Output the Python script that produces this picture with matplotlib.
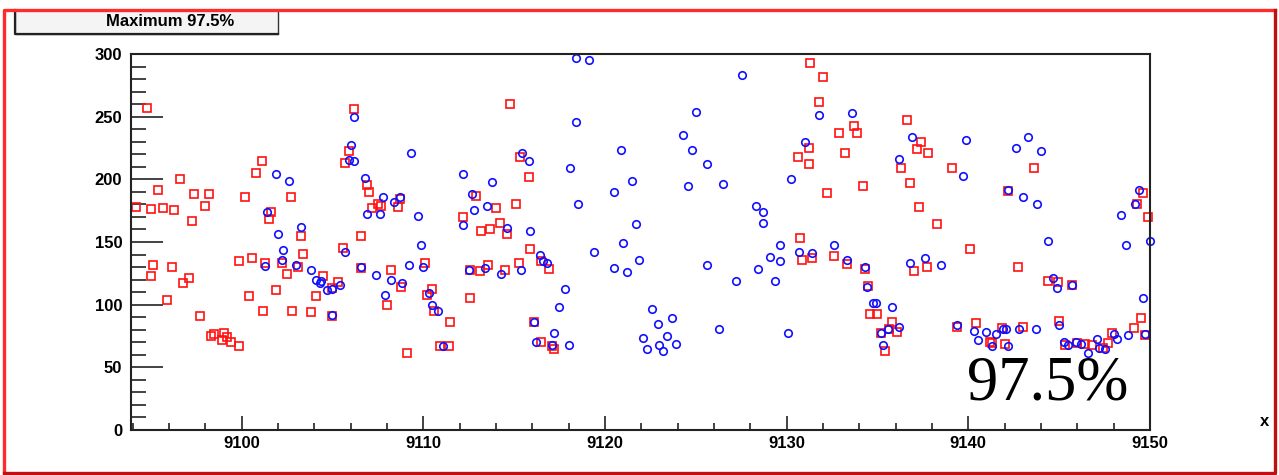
import matplotlib
matplotlib.use("Agg")
import matplotlib.pyplot as plt
from matplotlib.lines import Line2D
from matplotlib.patches import Rectangle
from matplotlib.ticker import MultipleLocator

# red squares (x, y)
red_points = [
    (9094.8, 257), (9096.6, 200), (9095.4, 191.5), (9097.4, 188.5), (9098.2, 188.5),
    (9094.2, 178), (9095.0, 176.6), (9095.7, 177), (9096.3, 175.3), (9098.0, 178.5),
    (9097.3, 166.4), (9095.1, 131.6), (9095.0, 122.6), (9096.2, 130), (9097.1, 121.3),
    (9096.8, 117), (9095.9, 104), (9097.7, 91), (9098.3, 75), (9098.5, 76.4),
    (9099.06, 77.6), (9098.95, 71.6), (9099.2, 74), (9099.4, 70.2), (9099.85, 67.3),
    (9100.2, 186), (9101.1, 215), (9100.8, 205), (9101.6, 174), (9101.5, 168),
    (9102.7, 186), (9103.3, 155), (9103.4, 140.7), (9099.85, 135), (9100.6, 137.5),
    (9101.3, 133), (9102.2, 133.4), (9102.5, 124.5), (9103.1, 130), (9100.4, 107),
    (9101.9, 111.5), (9101.2, 95), (9102.8, 95),
    (9106.2, 256), (9105.9, 222.6), (9105.7, 213), (9106.9, 195.7), (9107.0, 190),
    (9107.2, 177), (9107.5, 180), (9107.7, 178.7), (9108.6, 178), (9108.7, 184),
    (9106.6, 155), (9105.6, 145), (9104.5, 123), (9104.1, 107), (9103.8, 94),
    (9105.3, 118), (9105.0, 113.5), (9105.0, 91), (9106.6, 129), (9108.2, 127.7),
    (9108.0, 99.7), (9108.8, 113.8), (9110.1, 133.5), (9110.2, 108), (9110.5, 112.7),
    (9110.6, 95), (9111.5, 86), (9109.1, 61.7), (9110.9, 67), (9111.4, 67),
    (9112.2, 169.7), (9112.6, 128), (9112.6, 105.6), (9112.9, 187),
    (9114.75, 260), (9115.3, 218), (9115.8, 202), (9114.0, 177), (9115.1, 180.6),
    (9114.2, 165.4), (9113.2, 159), (9113.7, 160.6), (9114.6, 156.4), (9115.85, 144.7),
    (9115.25, 133), (9113.56, 131.6), (9113.1, 127), (9114.5, 127.7), (9116.5, 134.6),
    (9116.9, 128.5), (9116.1, 86.4), (9116.5, 70), (9117.1, 67), (9117.2, 64.4),
    (9131.3, 292.6), (9131.25, 225), (9130.6, 217.8), (9131.25, 212), (9130.76, 153.4),
    (9130.85, 136), (9131.4, 137),
    (9132.0, 282), (9131.8, 262), (9132.9, 237), (9133.7, 242.6), (9133.9, 237),
    (9133.2, 220.7), (9132.2, 188.8), (9134.2, 194.7), (9136.6, 247.3), (9137.4, 229.8),
    (9137.2, 224), (9137.8, 220.8), (9136.3, 209), (9136.8, 197.3), (9137.3, 178),
    (9138.3, 164), (9139.1, 209), (9140.1, 144.7), (9132.6, 139), (9133.3, 132.7),
    (9134.3, 128.5), (9134.5, 115), (9134.6, 92.3), (9135.0, 92.3), (9135.2, 77.6),
    (9135.4, 62.8), (9135.66, 80.3), (9135.8, 86.4), (9136.05, 78.4), (9137.0, 127),
    (9137.7, 130), (9139.4, 82), (9140.4, 85),
    (9143.6, 209.3), (9142.2, 190.4), (9142.75, 130), (9144.4, 119), (9144.95, 118),
    (9145.7, 115.4), (9145.0, 87), (9149.6, 188.8), (9149.3, 180), (9149.9, 169.7),
    (9149.5, 89.6), (9149.1, 81), (9149.7, 75.8), (9147.9, 77.4), (9147.7, 69.7),
    (9147.4, 65.7), (9145.34, 67.6), (9146.0, 69.2), (9146.4, 68.4), (9146.8, 67.6),
    (9141.2, 70.5), (9141.3, 69.2), (9142.0, 68.9), (9141.85, 81), (9143.0, 82),
]

# blue circles (x, y)
blue_points = [
    (9101.9, 204.5), (9102.6, 199), (9101.4, 174), (9102.0, 156.6), (9103.3, 162),
    (9102.3, 143.4), (9102.2, 136), (9101.3, 130.6), (9103.0, 132),
    (9106.2, 250), (9106.0, 227), (9105.9, 215.5), (9106.2, 215), (9106.8, 201),
    (9107.8, 186), (9106.9, 172.6), (9107.6, 172.6), (9108.7, 186), (9108.4, 181.7),
    (9109.3, 220.8), (9109.7, 171), (9109.9, 148), (9109.2, 131.6), (9110.0, 129.8),
    (9105.7, 141.8), (9106.6, 130), (9107.4, 124), (9108.2, 120), (9108.85, 117.6),
    (9107.9, 108), (9103.8, 127.7), (9104.1, 120), (9104.3, 117.5), (9104.4, 118.6),
    (9104.7, 112), (9105.0, 112.5), (9105.4, 116), (9105.0, 91.7), (9110.3, 109.6),
    (9110.5, 99.7), (9110.8, 95), (9111.1, 67), (9112.2, 204.5), (9112.2, 163.6),
    (9112.7, 188), (9112.8, 175.5), (9112.5, 127.7),
    (9118.4, 297), (9119.1, 295), (9118.4, 245.7), (9115.45, 220.8), (9115.8, 215),
    (9118.1, 209), (9120.9, 223.7), (9121.5, 199), (9120.5, 190), (9118.5, 180),
    (9113.8, 197.8), (9113.5, 179), (9114.6, 161), (9115.85, 159), (9121.7, 164),
    (9121.0, 149.5), (9121.9, 136), (9120.5, 129), (9121.2, 125.8), (9119.4, 142),
    (9116.4, 140), (9116.6, 134.6), (9116.8, 133), (9115.4, 127.4), (9114.3, 124.8),
    (9113.4, 129), (9117.8, 112.7), (9117.5, 98), (9116.1, 86.4), (9117.2, 77.4),
    (9116.2, 70), (9117.1, 68), (9118.0, 67.5),
    (9127.55, 283.5), (9125.0, 254), (9124.3, 235.4), (9124.8, 223.7), (9125.6, 212),
    (9124.6, 194.4), (9126.5, 196), (9128.3, 178.7), (9128.7, 174), (9128.7, 165.4),
    (9129.65, 148), (9129.1, 137.8), (9129.65, 134.6), (9128.45, 128.7), (9127.2, 118.6),
    (9129.35, 118.6), (9125.6, 131.6), (9122.6, 96.5), (9123.7, 89.4), (9122.9, 84.6),
    (9122.1, 73.4), (9122.3, 64.6), (9123.4, 75), (9123.0, 67.8), (9123.2, 63),
    (9123.9, 69), (9126.3, 80.8), (9130.1, 77.6), (9131.0, 229.8), (9130.25, 200.5),
    (9130.7, 142), (9131.4, 141),
    (9131.8, 251.6), (9133.6, 253), (9136.9, 233.8), (9136.2, 216.6), (9139.9, 231),
    (9139.7, 203), (9132.6, 148), (9133.3, 136), (9134.3, 130.3), (9134.4, 114.4),
    (9136.8, 133.5), (9137.6, 137), (9138.5, 131.6), (9134.75, 101), (9134.9, 101),
    (9135.8, 98), (9135.2, 77.6), (9135.3, 67.6), (9135.6, 80.3), (9136.2, 82),
    (9139.4, 83.5), (9140.3, 79), (9140.55, 71.8),
    (9143.3, 233.8), (9142.6, 225), (9144.0, 222.4), (9142.2, 191.5), (9143.0, 186),
    (9143.8, 180), (9144.4, 150.8), (9144.66, 121), (9144.86, 113), (9145.7, 115.7),
    (9148.4, 171.5), (9148.7, 148), (9149.4, 191.8), (9149.2, 180), (9150.0, 150.8),
    (9149.6, 105.6), (9149.75, 76.4), (9148.8, 76), (9148.2, 72.4), (9145.0, 83.5),
    (9145.27, 70.2), (9145.47, 68), (9145.93, 70.2), (9146.2, 68.9), (9146.6, 61.7),
    (9147.1, 72.4), (9147.2, 65.7), (9147.55, 64.4), (9148.0, 76.6), (9141.0, 78.4),
    (9141.5, 76.4), (9141.9, 80.3), (9142.1, 80.3), (9142.8, 80.3), (9143.7, 80.3),
    (9141.3, 67.3), (9142.2, 67.3),
]

title = "Maximum 97.5%"
label = "97.5%"

W, H = 1279, 475
fig = plt.figure(figsize=(W / 100, H / 100), dpi=100)
fig.patch.set_facecolor("white")

ax = fig.add_axes([130.7 / W, 45 / H, (1150 - 130.7) / W, 376 / H])

rx, ry = zip(*red_points)
bx, by = zip(*blue_points)
ax.plot(rx, ry, "s", mfc="none", mec="#ff1010", ms=5.6, mew=1.2, clip_on=False)
ax.plot(bx, by, "o", mfc="none", mec="#1010ff", ms=5.4, mew=1.2, clip_on=False)

ax.set_xlim(9093.9, 9150)
ax.set_ylim(0, 300)
ax.xaxis.set_major_locator(MultipleLocator(10))
ax.xaxis.set_minor_locator(MultipleLocator(2))
ax.yaxis.set_major_locator(MultipleLocator(50))
ax.yaxis.set_minor_locator(MultipleLocator(10))

for s in ax.spines.values():
    s.set_linewidth(1.5)
    s.set_color("#222222")

ax.tick_params(axis="both", which="both", direction="in", color="#222222", width=1.2,
               top=False, right=False)
ax.tick_params(axis="y", which="major", length=23, pad=6)
ax.tick_params(axis="y", which="minor", length=11)
ax.tick_params(axis="x", which="major", length=10, pad=4)
ax.tick_params(axis="x", which="minor", length=5)
for t in ax.get_xticklabels() + ax.get_yticklabels():
    t.set_fontweight("bold")
    t.set_fontsize(12)
    t.set_family("Liberation Sans")


def fx(px):
    return px / W


def fy(py):
    return 1 - py / H


# title box
fig.patches.append(Rectangle((fx(15), fy(34)), fx(278) - fx(15), fy(10) - fy(34),
                             transform=fig.transFigure, facecolor="#f4f4f4",
                             edgecolor="#333333", lw=1.0, zorder=2))
fig.lines.append(Line2D([fx(15), fx(15), fx(278)], [fy(10), fy(34), fy(34)],
                        transform=fig.transFigure, color="#222222", lw=1.6, zorder=3))
fig.text(fx(170), fy(22), title, ha="center", va="center", fontsize=12,
         fontweight="bold", family="Liberation Sans")

# canvas border
fig.lines.append(Line2D([fx(4), fx(4), fx(1275)], [fy(472), fy(9.5), fy(9.5)],
                        transform=fig.transFigure, color="#ff2a2a", lw=2.4, zorder=5))
fig.lines.append(Line2D([fx(4), fx(1275), fx(1275)], [fy(472.5), fy(472.5), fy(9.5)],
                        transform=fig.transFigure, color="#c01010", lw=2.4, zorder=5))

fig.text(fx(1265), fy(422), "x", ha="center", va="center", fontsize=12,
         fontweight="bold", family="Liberation Sans")
fig.text(fx(967), fy(400), label, ha="left", va="baseline", fontsize=45,
         family="Liberation Serif")

fig.savefig("out.png", dpi=100)
